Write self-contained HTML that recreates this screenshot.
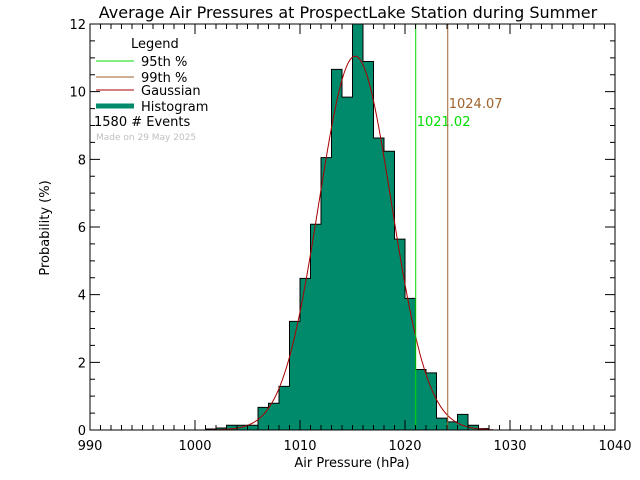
<!DOCTYPE html>
<html><head><meta charset="utf-8"><style>
body{margin:0;background:#fff}
svg{display:block;font-family:"DejaVu Sans","Liberation Sans",sans-serif}
</style></head><body>
<svg id="chart" width="640" height="480" xmlns="http://www.w3.org/2000/svg">
<rect width="640" height="480" fill="#fff"/>
<text x="348" y="18" font-size="16" text-anchor="middle" fill="#000">Average Air Pressures at ProspectLake Station during Summer</text>
<g id="bars"></g>
<g id="gauss"></g>
<g id="pct"></g>
<g id="axes"></g>
<text x="352" y="467" font-size="13" text-anchor="middle">Air Pressure (hPa)</text>
<text transform="translate(49,228) rotate(-90)" font-size="13" text-anchor="middle">Probability (%)</text>
<g font-size="13">
<text x="131" y="48">Legend</text>
<line x1="96" y1="61" x2="134" y2="61" stroke="#00dd00" stroke-width="1"/>
<text x="141" y="66">95th %</text>
<line x1="96" y1="77" x2="134" y2="77" stroke="#a0622a" stroke-width="1"/>
<text x="141" y="82">99th %</text>
<line x1="96" y1="90" x2="134" y2="90" stroke="#aa0000" stroke-width="1"/>
<text x="141" y="95">Gaussian</text>
<line x1="96" y1="106" x2="134" y2="106" stroke="#008a6c" stroke-width="5"/>
<text x="141" y="111">Histogram</text>
<text x="94" y="126">1580   # Events</text>
<text x="96" y="140" font-size="9" fill="#c0c0c0">Made on 29 May 2025</text>
</g>
</svg>
<script>
const binStarts=[1001,1002,1003,1004,1005,1006,1007,1008,1009,1010,1011,1012,1013,1014,1015,1016,1017,1018,1019,1020,1021,1022,1023,1024,1025,1026,1027];
const binValues=[0.03,0.06,0.14,0.14,0.14,0.67,0.79,1.29,3.21,4.48,6.08,8.05,10.66,9.84,12.0,10.89,8.63,8.24,5.64,3.89,1.79,1.69,0.35,0.24,0.46,0.14,0.04];
const binWidth=[1];
const gaussParams=[11.05,1015.25,3.46]; // amplitude, mean, sigma
const percentiles=[1021.02,1024.07];
const percentileLabels=["1021.02","1024.07"];
const xTicks=[990,1000,1010,1020,1030,1040];
const yTicks=[0,2,4,6,8,10,12];
const X0=90,X1=615,Y0=430,Y1=24;
const xs=v=>X0+(v-990)/50*(X1-X0);
const ys=v=>Y0-(v/12)*(Y0-Y1);
const NS="http://www.w3.org/2000/svg";
function mk(t,a,p){const e=document.createElementNS(NS,t);for(const k in a)e.setAttribute(k,a[k]);p.appendChild(e);return e;}
const bars=document.getElementById('bars');
let outline="";
binStarts.forEach((b,i)=>{
  const v=Math.min(binValues[i],12);
  const r=mk('rect',{x:xs(b),y:ys(v),width:xs(b+binWidth[0])-xs(b),height:Y0-ys(v),fill:'#008a6c'},bars);
  
  
  outline+=(i===0?`M${xs(b)},${Y0}`:"")+`L${xs(b)},${ys(v)}L${xs(b+binWidth[0])},${ys(v)}`;
});
outline+=`L${xs(binStarts[binStarts.length-1]+binWidth[0])},${Y0}`;
const ol=mk('path',{d:outline,fill:'none',stroke:'#000','stroke-width':1},bars);


// gaussian
let gd="";
for(let x=1001.5;x<=1028.5;x+=0.1){const v=gaussParams[0]*Math.exp(-0.5*Math.pow((x-gaussParams[1])/gaussParams[2],2));gd+=(gd?"L":"M")+xs(x).toFixed(1)+","+ys(v).toFixed(1);}
const gp=mk('path',{d:gd,fill:'none',stroke:'#aa0000','stroke-width':1},document.getElementById('gauss'));


// percentiles
const pg=document.getElementById('pct');
const pcol=['#00dd00','#a0622a'];
const pdy=[126,108];
percentiles.forEach((p,i)=>{
  const l=mk('line',{x1:xs(p),x2:xs(p),y1:Y1,y2:Y0,stroke:pcol[i],'stroke-width':1},pg);
  
  
  const t=mk('text',{x:xs(p)+1,y:pdy[i],'font-size':13,fill:pcol[i]},pg);
  t.textContent=percentileLabels[i];
  
  
});
// axes
const ax=document.getElementById('axes');
const fr=mk('rect',{x:X0,y:Y1,width:X1-X0,height:Y0-Y1,fill:'none',stroke:'#000','stroke-width':1},ax);


let td="";
for(let v=990;v<=1040;v+=1){const x=xs(v);const L=(v%10===0)?10:5;td+=`M${x},${Y0}V${Y0-L}M${x},${Y1}V${Y1+L}`;}
for(let v=0;v<=12;v+=0.5){const y=ys(v);const L=(v%2===0)?10:5;td+=`M${X0},${y}H${X0+L}M${X1},${y}H${X1-L}`;}
const tp=mk('path',{d:td,stroke:'#000','stroke-width':1,fill:'none'},ax);


xTicks.forEach(v=>{const t=mk('text',{x:xs(v),y:Y0+20,'font-size':13,'text-anchor':'middle'},ax);t.textContent=v;

});
yTicks.forEach(v=>{const t=mk('text',{x:X0-4,y:ys(v)+5,'font-size':13,'text-anchor':'end'},ax);t.textContent=v;

});
</script>
</body></html>
